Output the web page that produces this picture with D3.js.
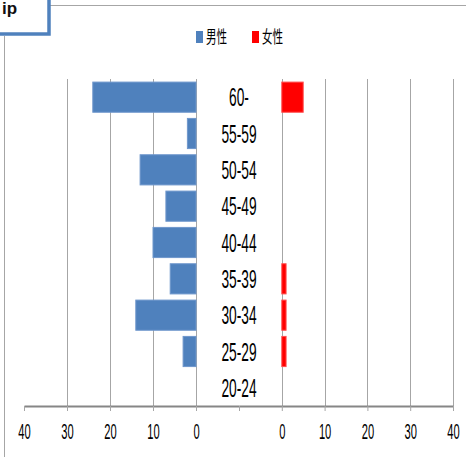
<!DOCTYPE html>
<html>
<head>
<meta charset="utf-8">
<script src="https://d3js.org/d3.v7.min.js"></script>
<style>
  body { margin: 0; background: #fff; }
  svg { display: block; }
</style>
</head>
<body>
<script>
// data
var categories = ["60-", "55-59", "50-54", "45-49", "40-44", "35-39", "30-34", "25-29", "20-24"];
var male = [24, 2, 13, 7, 10, 6, 14, 3, 0];
var female = [5, 0, 0, 0, 0, 1, 1, 1, 0];
var tickValues = [40, 30, 20, 10, 0, -10];
var legendLabels = ["男性", "女性"];

const w = 466, h = 457;
const plotTop = 79, plotBottom = 406;
const blue = "#4f81bd", red = "#ff0000";

var rows = categories.map(function (c, i) {
    return { cat: c, male: male[i], female: female[i] };
});

var svg = d3.select("body")
    .append("svg")
    .attr("width", w)
    .attr("height", h);

// scales: left half reversed, right half normal, both from -10 to 40
let xL = d3.scaleLinear().domain([40, -10]).range([24, 239]);
let xR = d3.scaleLinear().domain([-10, 40]).range([239, 453]);

let y = d3.scaleBand()
    .domain(categories)
    .range([plotTop, plotBottom])
    .paddingInner(0.17)
    .paddingOuter(0.085);

// outer chart border bits
svg.append("line")
    .attr("x1", 4.5).attr("x2", 4.5).attr("y1", 36).attr("y2", h)
    .attr("stroke", "#a6a6a6");
svg.append("line")
    .attr("x1", 50).attr("x2", w).attr("y1", 5.5).attr("y2", 5.5)
    .attr("stroke", "#a6a6a6");

// gridlines
svg.selectAll(".gridL")
    .data([30, 20, 10, 0])
    .enter()
    .append("line")
    .attr("x1", d => Math.round(xL(d)) + 0.5)
    .attr("x2", d => Math.round(xL(d)) + 0.5)
    .attr("y1", plotTop)
    .attr("y2", plotBottom)
    .attr("stroke", "#a6a6a6");

svg.selectAll(".gridR")
    .data([0, 10, 20, 30, 40])
    .enter()
    .append("line")
    .attr("x1", d => Math.round(xR(d)) + 0.5)
    .attr("x2", d => Math.round(xR(d)) + 0.5)
    .attr("y1", plotTop)
    .attr("y2", plotBottom)
    .attr("stroke", "#a6a6a6");

// bars
svg.selectAll(".male")
    .data(rows)
    .enter()
    .append("rect")
    .attr("x", d => xL(d.male))
    .attr("y", d => y(d.cat))
    .attr("width", d => xL(0) - xL(d.male))
    .attr("height", y.bandwidth())
    .attr("fill", blue)
    .attr("stroke", d => d.male > 0 ? "#6f97cc" : "none")
    .attr("stroke-width", 1);

svg.selectAll(".female")
    .data(rows)
    .enter()
    .append("rect")
    .attr("x", xR(0))
    .attr("y", d => y(d.cat))
    .attr("width", d => xR(d.female) - xR(0))
    .attr("height", y.bandwidth())
    .attr("fill", red)
    .attr("stroke", d => d.female > 0 ? "#ff5050" : "none")
    .attr("stroke-width", 1);

// axes
function styleAxis(g) {
    g.select(".domain").attr("stroke", "#868686").attr("stroke-width", 2);
    g.selectAll(".tick line").attr("stroke", "#a6a6a6");
    g.selectAll(".tick text")
        .attr("font-family", "'Liberation Sans', Arial, sans-serif")
        .attr("font-size", 21.5)
        .attr("fill", "#000")
        .attr("transform", "scale(0.52,1)");
}

const fmt = d => d < 0 ? "" : d;

let axL = svg.append("g")
    .attr("transform", "translate(0," + plotBottom + ")")
    .call(d3.axisBottom(xL).tickValues(tickValues).tickFormat(fmt).tickSize(5).tickPadding(13).tickSizeOuter(0));
styleAxis(axL);

let axR = svg.append("g")
    .attr("transform", "translate(0," + plotBottom + ")")
    .call(d3.axisBottom(xR).tickValues(tickValues).tickFormat(fmt).tickSize(5).tickPadding(13).tickSizeOuter(0));
styleAxis(axR);

// category labels in the middle
svg.selectAll(".cat")
    .data(categories)
    .enter()
    .append("text")
    .attr("transform", d => "translate(239," + (y(d) + y.bandwidth() / 2 + 9) + ") scale(0.55,1)")
    .attr("text-anchor", "middle")
    .attr("font-family", "'Liberation Sans', Arial, sans-serif")
    .attr("font-size", 25)
    .attr("fill", "#000")
    .text(d => d);

// legend
var legend = svg.selectAll(".legend")
    .data(legendLabels)
    .enter()
    .append("g")
    .attr("transform", (d, i) => "translate(" + (196 + i * 56) + ",0)");

legend.append("rect")
    .attr("x", 0).attr("y", 31)
    .attr("width", 7).attr("height", 12)
    .attr("fill", (d, i) => i == 0 ? blue : red);

legend.append("text")
    .attr("transform", "translate(10,43) scale(0.62,1)")
    .attr("font-family", "'Noto Sans CJK SC', sans-serif")
    .attr("font-size", 17)
    .attr("fill", "#000")
    .text(d => d);

// title box at top-left (mostly off the page)
svg.append("rect")
    .attr("x", -10).attr("y", -10)
    .attr("width", 59).attr("height", 44)
    .attr("fill", "#fff")
    .attr("stroke", blue)
    .attr("stroke-width", 3.5);

svg.append("text")
    .attr("x", 2).attr("y", 14)
    .attr("font-family", "'Liberation Sans', Arial, sans-serif")
    .attr("font-weight", "bold")
    .attr("font-size", 17)
    .attr("fill", "#111")
    .text("ip");
</script>
</body>
</html>
